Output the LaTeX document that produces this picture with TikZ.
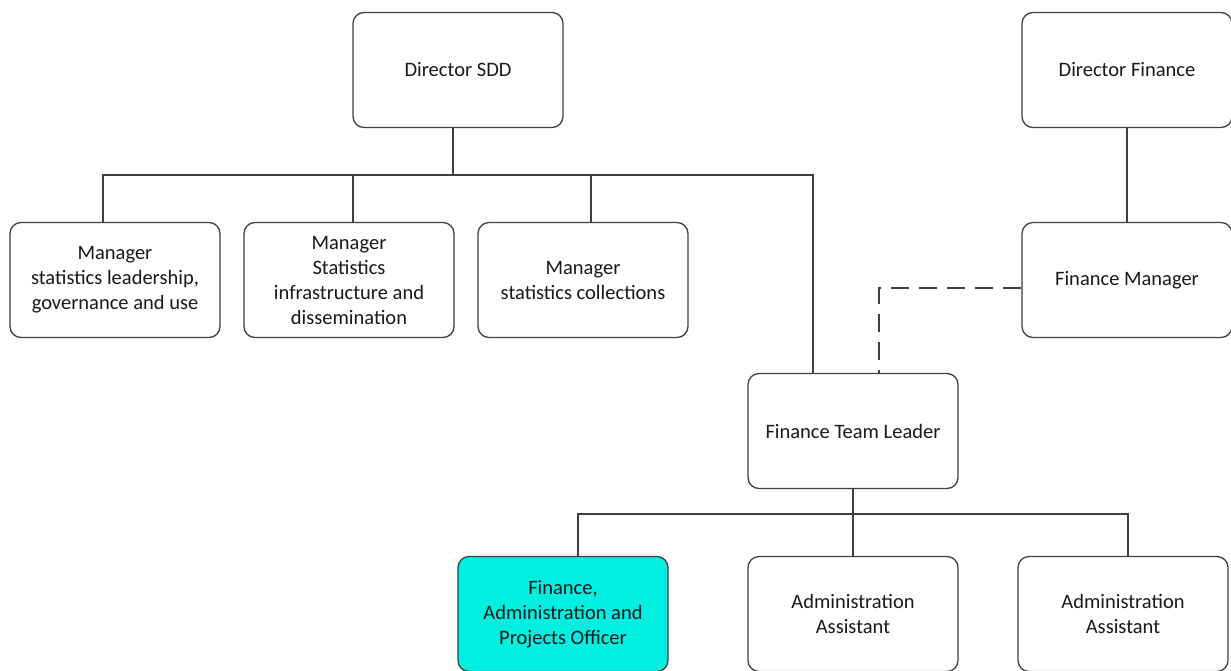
\documentclass[tikz,border=0pt]{standalone}
\usepackage{fontspec}
\setmainfont{Carlito}
\usepackage{tikz}
\usetikzlibrary{positioning,calc}
\definecolor{wire}{HTML}{404040}
\definecolor{inkt}{HTML}{1A1A1A}
\definecolor{aqua}{HTML}{00EFE1}

\begin{document}
\begin{tikzpicture}[x=1pt,y=-1pt,
    post/.style={draw=wire,line width=1.3pt,rounded corners=11pt,fill=white,
                 minimum width=210pt,minimum height=115pt,align=center,
                 text=inkt,font=\fontsize{20.5}{25}\selectfont},
    conn/.style={draw=wire,line width=1.3pt},
    dotted line/.style={conn,dash pattern=on 18pt off 10pt}]
  \useasboundingbox (0,0) rectangle (1231,670);
  % top row
  \node[post] (sdd)  at (458,70)   {Director SDD};
  \node[post] (dfin) at (1127,70)  {Director Finance};
  % managers under the director
  \node[post] (mlead) at (115,280) {Manager\\statistics leadership,\\governance and use};
  \node[post] (minfr) at (349,280) {Manager\\Statistics\\infrastructure and\\dissemination};
  \node[post] (mcoll) at (583,280) {Manager\\statistics collections};
  \node[post] (fm)    at (1127,280) {Finance Manager};
  \node[post] (ftl)   at (853,431) {Finance Team Leader};
  % team
  \node[post,fill=aqua] (fapo) at (563,614) {Finance,\\Administration and\\Projects Officer};
  \node[post] (aa1) at (853,614)  {Administration\\Assistant};
  \node[post] (aa2) at (1123,614) {Administration\\Assistant};

  \coordinate (sddbus) at (453,175);
  \coordinate (ftlbus) at (853,514);
  \draw[conn] ([xshift=-5pt]sdd.south) -- (sddbus);
  \draw[conn] ([xshift=-12pt]mlead.north) |- (sddbus) -| ([xshift=-40pt]ftl.north);
  \draw[conn] ([xshift=4pt]minfr.north) -- ++(0,-47);
  \draw[conn] ([xshift=8pt]mcoll.north) -- ++(0,-47);
  \draw[conn] (dfin.south) -- (fm.north);
  \draw[dotted line] ([yshift=-8pt]fm.west) -| ([xshift=26pt]ftl.north);
  \draw[conn] (ftl.south) -- (ftlbus);
  \draw[conn] ([xshift=15pt]fapo.north) |- (ftlbus) -| ([xshift=5pt]aa2.north);
  \draw[conn] (aa1.north) -- (ftlbus);
\end{tikzpicture}
\end{document}
